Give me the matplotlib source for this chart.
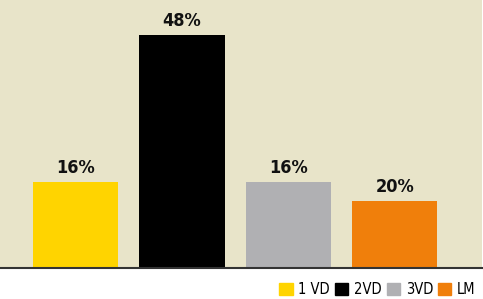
import matplotlib.pyplot as plt
from matplotlib.patches import Patch

categories = ['1 VD', '2VD', '3VD', 'LM']
labels = ['16%', '48%', '16%', '20%']
# bar heights as drawn in the picture (they don't all follow the labels)
heights = [17.7, 48, 17.7, 13.8]
colors = ['#FFD400', '#000000', '#B0B0B3', '#F07F0B']

fig = plt.figure(figsize=(4.83, 2.99), dpi=100)
ax = fig.add_axes([0, 31 / 299, 482 / 483, 268 / 299])
ax.set_facecolor('#E8E4C9')

x = range(len(categories))
bars = ax.bar(x, heights, width=0.8, color=colors, linewidth=0)
for b, lab in zip(bars, labels):
    ax.text(b.get_x() + b.get_width() / 2, b.get_height() + 1.1, lab,
            ha='center', va='bottom', fontsize=13, fontweight='bold',
            family='DejaVu Sans', stretch='condensed', color='#111111')

ax.set_xlim(-0.71, 3.82)
ax.set_ylim(0, 55.2)
ax.set_xticks([])
ax.set_yticks([])
for s in ['top', 'right', 'left']:
    ax.spines[s].set_visible(False)
ax.spines['bottom'].set_color('#333333')
ax.spines['bottom'].set_linewidth(1.5)

handles = [Patch(color=c) for c in colors]
fig.legend(handles, categories, ncol=4, loc='lower right', bbox_to_anchor=(1.012, -0.038),
           frameon=False, handlelength=0.9, handleheight=0.9, handletextpad=0.4,
           columnspacing=0.35,
           prop={'family': 'DejaVu Sans', 'stretch': 'condensed', 'size': 10.5})

fig.savefig('out.png', dpi=100)
